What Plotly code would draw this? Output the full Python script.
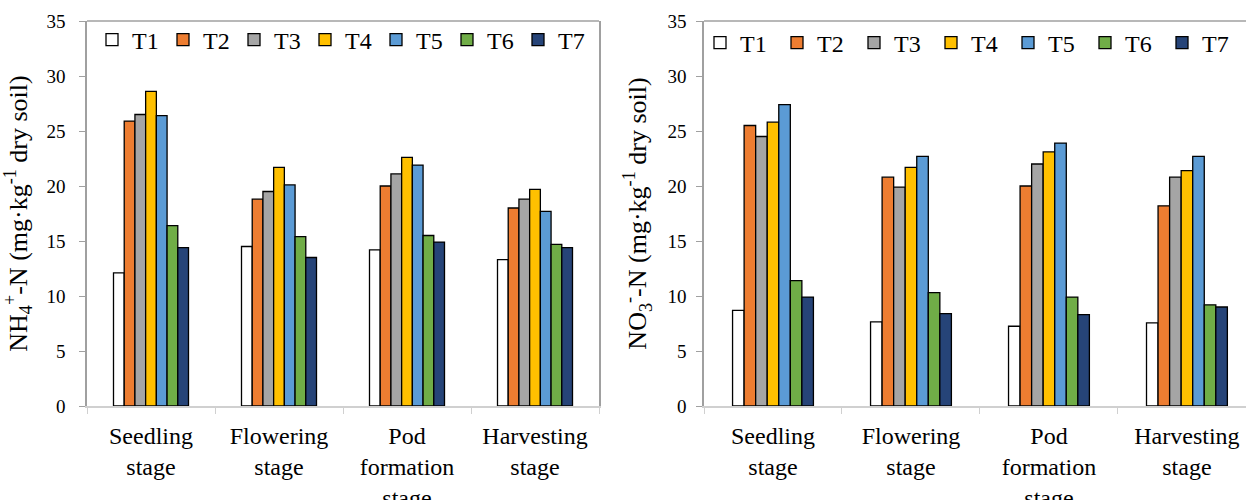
import plotly.graph_objects as go

stages = ["Seedling<br>stage", "Flowering<br>stage", "Pod<br>formation<br>stage", "Harvesting<br>stage"]
treatments = ["T1", "T2", "T3", "T4", "T5", "T6", "T7"]
colors = ["#FFFFFF", "#ED7D31", "#A5A5A5", "#FFC000", "#5B9BD5", "#70AD47", "#264478"]

# NH4+-N (mg/kg dry soil), per treatment, across stages
nh4 = {
    "T1": [12.1, 14.5, 14.2, 13.3],
    "T2": [25.9, 18.8, 20.0, 18.0],
    "T3": [26.5, 19.5, 21.1, 18.8],
    "T4": [28.6, 21.7, 22.6, 19.7],
    "T5": [26.4, 20.1, 21.9, 17.7],
    "T6": [16.4, 15.4, 15.5, 14.7],
    "T7": [14.4, 13.5, 14.9, 14.4],
}
# NO3--N (mg/kg dry soil)
no3 = {
    "T1": [8.7, 7.65, 7.25, 7.55],
    "T2": [25.5, 20.8, 20.0, 18.2],
    "T3": [24.5, 19.9, 22.0, 20.8],
    "T4": [25.8, 21.7, 23.1, 21.4],
    "T5": [27.4, 22.7, 23.9, 22.7],
    "T6": [11.4, 10.3, 9.9, 9.2],
    "T7": [9.9, 8.4, 8.3, 9.0],
}
y_ticks = [0, 5, 10, 15, 20, 25, 30, 35]

W, H = 1246, 500
T_M, B_M = 21, 94
PH = H - T_M - B_M
FONT = "Liberation Serif"

fig = go.Figure()
for t, c in zip(treatments, colors):
    fig.add_trace(go.Bar(x=stages, y=nh4[t], name=t, marker=dict(color=c, line=dict(color="#000000", width=1.3)),
                         xaxis="x", yaxis="y", legend="legend"))
for t, c in zip(treatments, colors):
    fig.add_trace(go.Bar(x=stages, y=no3[t], name=t, marker=dict(color=c, line=dict(color="#000000", width=1.3)),
                         xaxis="x2", yaxis="y2", legend="legend2"))

axis_common_x = dict(type="category", tickson="boundaries", ticks="outside", ticklen=6, tickcolor="#d0d0d0",
                     showline=True, linecolor="#d0d0d0", linewidth=1.5, showgrid=False, zeroline=False,
                     automargin=False,
                     tickfont=dict(family=FONT, size=24, color="#000000"), ticklabelstandoff=7)
axis_common_y = dict(range=[0, 35], tickvals=y_ticks, ticks="outside", ticklen=6, tickcolor="#a0a0a0",
                     showline=True, linecolor="#a0a0a0", linewidth=1.5, mirror=True, showgrid=False,
                     zeroline=False, automargin=False,
                     tickfont=dict(family=FONT, size=19, color="#000000"))

# top frame line of each plot area
for xr, yr in (("x", "y"), ("x2", "y2")):
    fig.add_shape(type="line", xref=f"{xr} domain", yref=f"{yr} domain", x0=0, x1=1, y0=1, y1=1,
                  line=dict(color="#a0a0a0", width=1.5))

fig.update_layout(
    template="none",
    width=W, height=H,
    margin=dict(l=0, r=0, t=T_M, b=B_M),
    paper_bgcolor="white", plot_bgcolor="white",
    barmode="group", bargap=0.414, bargroupgap=0,
    font=dict(family=FONT, color="#000000"),
    xaxis=dict(domain=[87 / W, 599 / W], range=[-0.5, 3.5], anchor="y", **axis_common_x),
    yaxis=dict(domain=[0, 1], anchor="x", ticklabelstandoff=10,
               title=dict(text="NH<sub>4</sub><sup>+</sup>-N (mg·kg<sup>-1</sup> dry soil)",
                          font=dict(family=FONT, size=26), standoff=15),
               **axis_common_y),
    xaxis2=dict(domain=[704 / W, 1.0], range=[-0.5, 3.428], anchor="y2", **axis_common_x),
    yaxis2=dict(domain=[0, 1], anchor="x2", ticklabelstandoff=6,
                title=dict(text="NO<sub>3</sub><sup>-</sup>-N (mg·kg<sup>-1</sup> dry soil)",
                           font=dict(family=FONT, size=26), standoff=13),
                **axis_common_y),
    legend=dict(orientation="h", x=92 / W, xanchor="left", y=1 - 19 / PH, yanchor="middle",
                entrywidth=26, entrywidthmode="pixels", bgcolor="rgba(0,0,0,0)",
                font=dict(family=FONT, size=24), traceorder="normal"),
    legend2=dict(orientation="h", x=700 / W, xanchor="left", y=1 - 22 / PH, yanchor="middle",
                 entrywidth=32, entrywidthmode="pixels", bgcolor="rgba(0,0,0,0)",
                 font=dict(family=FONT, size=24), traceorder="normal"),
)

fig.write_html("out.html", config={"displayModeBar": False},
               post_script="document.body.style.margin='0';document.body.style.overflow='hidden';")
